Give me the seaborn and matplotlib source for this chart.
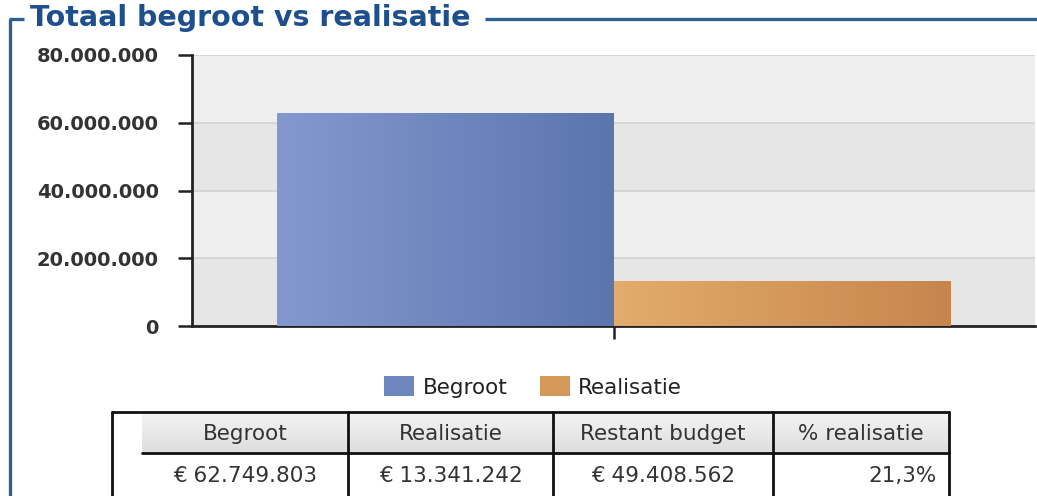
import numpy as np
import pandas as pd
import matplotlib
matplotlib.use("Agg")
import matplotlib.pyplot as plt
from matplotlib.colors import LinearSegmentedColormap
from matplotlib.ticker import FuncFormatter, FixedLocator
from matplotlib.patches import Rectangle
import seaborn as sns

# ---- data ----
title = "Totaal begroot vs realisatie"
series = ["Begroot", "Realisatie"]
values = [62749803, 13341242]
y_ticks = [0, 20000000, 40000000, 60000000, 80000000]
table_headers = ["Begroot", "Realisatie", "Restant budget", "% realisatie"]
table_values = ["€ 62.749.803", "€ 13.341.242", "€ 49.408.562", "21,3%"]

# ---- style ----
sns.set_theme(style="white")
plt.rcParams['font.family'] = ['DejaVu Sans']

W, H = 1037, 496
fig = plt.figure(figsize=(W / 100, H / 100), dpi=100)
fig.patch.set_facecolor("white")

def fx(px):
    return px / W

def fy(py):
    return 1 - py / H

ax_left, ax_right, ax_top, ax_bot = 192, 1035, 55, 326
ax = fig.add_axes([fx(ax_left), fy(ax_bot), fx(ax_right - ax_left), (ax_bot - ax_top) / H])

df = pd.DataFrame({"cat": ["", ""], "serie": series, "waarde": values})
grad_pairs = {"Begroot": ("#8498cf", "#5b76ad"), "Realisatie": ("#e2ac6c", "#c7854d")}
mid_cols = ["#6f87bf", "#d5995c"]
sns.barplot(data=df, x="cat", y="waarde", hue="serie", hue_order=series,
            palette=mid_cols, width=0.8, saturation=1, ax=ax, legend=True,
            edgecolor="none", linewidth=0, zorder=3)

# background bands
band_cols = ["#e6e6e6", "#efefef", "#e6e6e6", "#efefef"]
for i, c in enumerate(band_cols):
    ax.axhspan(y_ticks[i], y_ticks[i + 1], color=c, zorder=0, lw=0)
for t in y_ticks[1:]:
    ax.axhline(t, color="#d2d2d2", lw=1.2, zorder=1)

# gradient bars
for patch, s in zip([p for p in ax.patches if isinstance(p, Rectangle) and p.get_height() > 0], series):
    x0, y0 = patch.get_x(), patch.get_y()
    w, h = patch.get_width(), patch.get_height()
    cmap = LinearSegmentedColormap.from_list(s, grad_pairs[s])
    grad = np.linspace(0, 1, 256).reshape(1, -1)
    im = ax.imshow(grad, cmap=cmap, aspect="auto", extent=(x0, x0 + w, y0, y0 + h),
                   zorder=4, interpolation="bilinear")
    im.set_clip_path(patch)
ax.set_xlim(-0.501, 0.501)
ax.set_ylim(0, 80000000)

# axes styling
for sp in ["top", "right"]:
    ax.spines[sp].set_visible(False)
ax.spines["left"].set_color("#222222")
ax.spines["left"].set_linewidth(2)
ax.spines["bottom"].set_color("#222222")
ax.spines["bottom"].set_linewidth(2)
ax.yaxis.set_major_locator(FixedLocator(y_ticks))
ax.yaxis.set_major_formatter(FuncFormatter(lambda v, p: f"{int(v):,}".replace(",", ".")))
ax.tick_params(axis="y", direction="out", length=10, width=1.8, color="#222222",
               pad=14, labelsize=14, labelcolor="#333333", left=True)
for lbl in ax.get_yticklabels():
    lbl.set_fontweight("bold")
ax.set_xticks([0])
ax.set_xticklabels([""])
ax.tick_params(axis="x", direction="out", length=9, width=1.8, color="#222222", bottom=True)
ax.set_xlabel("")
ax.set_ylabel("")

# legend
sns.move_legend(ax, "center", bbox_to_anchor=(fx(533), fy(387)),
                bbox_transform=fig.transFigure, ncol=2, frameon=False, title=None,
                fontsize=15.5, handlelength=1.4, handleheight=1.0, columnspacing=1.5,
                handletextpad=0.4)
for txt in ax.get_legend().get_texts():
    txt.set_color("#222222")

# overlay for frame + table (pixel coordinates)
ov = fig.add_axes([0, 0, 1, 1], zorder=-1)
ov.axis("off")

frame_col = "#2f5f8f"
ov.plot([10, 10], [19, H + 5], color=frame_col, lw=2.4, solid_capstyle="butt")
ov.plot([9, 24], [19, 19], color=frame_col, lw=2.4, solid_capstyle="butt")
ov.plot([485, W + 5], [19, 19], color=frame_col, lw=2.4, solid_capstyle="butt")
ov.text(30, 18, title, fontsize=20.5, fontweight="bold", color="#1d4f8c",
        va="center", ha="left")

# table
t_left, t_right = 112, 949
t_top, t_mid, t_bot = 412, 453, 496
col_edges = [142, 348, 553, 773, 949]
hdr_cmap = LinearSegmentedColormap.from_list("hdr", ["#f4f4f4", "#dedede"])
ov.imshow(np.linspace(0, 1, 64).reshape(-1, 1), cmap=hdr_cmap, aspect="auto",
          extent=(col_edges[0], t_right, t_mid, t_top), zorder=1)
ov.set_xlim(0, W)
ov.set_ylim(H, 0)
lc = "#111111"
ov.plot([t_left, t_right], [t_top, t_top], color=lc, lw=2, zorder=3)
ov.plot([col_edges[0], t_right], [t_mid, t_mid], color=lc, lw=2, zorder=3)
ov.plot([t_left, t_left], [t_top, t_bot + 5], color=lc, lw=2, zorder=3)
for xe in col_edges[1:]:
    ov.plot([xe, xe], [t_top, t_bot + 5], color=lc, lw=2, zorder=3)
fs_t = 15.5
for i, (hd, val) in enumerate(zip(table_headers, table_values)):
    xa, xb = col_edges[i], col_edges[i + 1]
    ov.text((xa + xb) / 2, (t_top + t_mid) / 2 + 1, hd, fontsize=fs_t, color="#333333",
            ha="center", va="center", zorder=4)
    if i == len(table_headers) - 1:
        ov.text(xb - 12, 476, val, fontsize=fs_t, color="#333333",
                ha="right", va="center", zorder=4)
    else:
        ov.text((xa + xb) / 2, 476, val, fontsize=fs_t, color="#333333",
                ha="center", va="center", zorder=4)

fig.savefig("out.png", dpi=100)
